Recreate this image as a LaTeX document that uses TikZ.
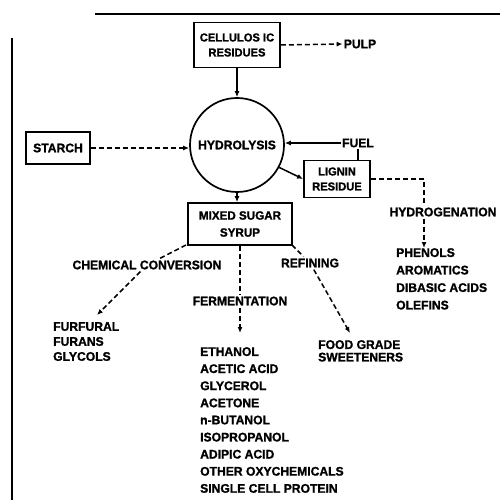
\documentclass[tikz,border=0pt]{standalone}
\usepackage{fontspec}
\setmainfont{Liberation Sans}[FakeBold=1.2, FakeStretch=0.97]
\usetikzlibrary{arrows.meta}
\begin{document}
\begin{tikzpicture}[x=1pt,y=-1pt,
  every node/.style={font=\bfseries\fontsize{12.5}{15}\selectfont, inner sep=1pt},
  boxnode/.style={draw, line width=1.7pt, align=center, inner sep=2pt},
  lbl/.style={fill=white, inner sep=2pt},
  conn/.style={line width=1.5pt},
  dconn/.style={line width=1.5pt, dash pattern=on 5pt off 3pt},
  tip/.style={-{Latex[length=6pt,width=5pt]}},
  listnode/.style={align=left, anchor=north west, inner sep=0pt}
]
\useasboundingbox (0,0) rectangle (500,502);
% frame lines
\draw[line width=1.5pt] (95,14) -- (500,14);
\draw[line width=1.5pt] (12,38) -- (12,500);

% nodes
\node[boxnode, minimum width=86pt, minimum height=45pt, font=\bfseries\fontsize{11.5}{15}\selectfont] (cell) at (237,45) {CELLULOS IC\\RESIDUES};
\node (pulp) at (360,44) {PULP};
\node[circle, draw, line width=1.7pt, minimum size=94pt, inner sep=0pt] (hyd) at (237,145) {HYDROLYSIS};
\node[boxnode, minimum width=64pt, minimum height=32pt] (starch) at (58,148) {STARCH};
\node (fuel) at (358,143) {FUEL};
\node[boxnode, minimum width=66pt, minimum height=37pt, font=\bfseries\fontsize{11.5}{15}\selectfont] (lignin) at (337,179) {LIGNIN\\RESIDUE};
\node[boxnode, minimum width=104pt, minimum height=42pt, font=\bfseries\fontsize{12}{17}\selectfont] (mix) at (240,224) {MIXED SUGAR\\SYRUP};
\node[lbl] (hydro) at (443,212) {HYDROGENATION};
\node[listnode, font=\bfseries\fontsize{12.5}{17.5}\selectfont] (phen) at (396,248) {PHENOLS\\AROMATICS\\DIBASIC ACIDS\\OLEFINS};
\node[lbl] (chem) at (147,265) {CHEMICAL CONVERSION};
\node[lbl] (ferm) at (240,301) {FERMENTATION};
\node[lbl] (refin) at (310,263) {REFINING};
\node[listnode, font=\bfseries\fontsize{12.5}{15}\selectfont] (furf) at (53,322) {FURFURAL\\FURANS\\GLYCOLS};
\node[listnode, font=\bfseries\fontsize{12.5}{12.5}\selectfont] (food) at (318,340) {FOOD GRADE\\SWEETENERS};
\node[listnode, font=\bfseries\fontsize{12.5}{17.1}\selectfont] (eth) at (200,347) {ETHANOL\\ACETIC ACID\\GLYCEROL\\ACETONE\\n-BUTANOL\\ISOPROPANOL\\ADIPIC ACID\\OTHER OXYCHEMICALS\\SINGLE CELL PROTEIN};

% tip coordinates
\coordinate (hc) at (424,179);
\coordinate (tipC) at (97,315);
\coordinate (tipF) at (240,333);
\coordinate (tipR) at (350,333);
\coordinate (mixL) at (186,245);
\coordinate (mixR) at (292,245);

% connectors
\draw[dconn, tip] (cell.east) -- (pulp.west);
\draw[conn, tip] (cell.south) -- (hyd.north);
\draw[dconn, tip] (starch.east) -- (starch.east -| hyd.west);
\draw[conn, tip] (fuel.west) -- (fuel.west -| hyd.east);
\draw[conn] (fuel.south) -- (fuel.south |- lignin.north);
\draw[conn, tip] (hyd.-28) -- (lignin.west);
\draw[conn, tip] (hyd.south) -- (hyd.south |- mix.north);
\draw[dconn] (lignin.east) -- (hc) -- (hc |- hydro.north);
\draw[dconn, tip] (hc |- hydro.south) -- (hc |- phen.north);

\draw[dconn] (mixL) -- (chem);
\draw[dconn, tip] (chem) -- (tipC);
\draw[dconn] (mix.south) -- (ferm.north);
\draw[dconn, tip] (ferm.south) -- (tipF);
\draw[dconn] (mixR) -- (refin);
\draw[dconn, tip] (refin) -- (tipR);
\end{tikzpicture}
\end{document}
